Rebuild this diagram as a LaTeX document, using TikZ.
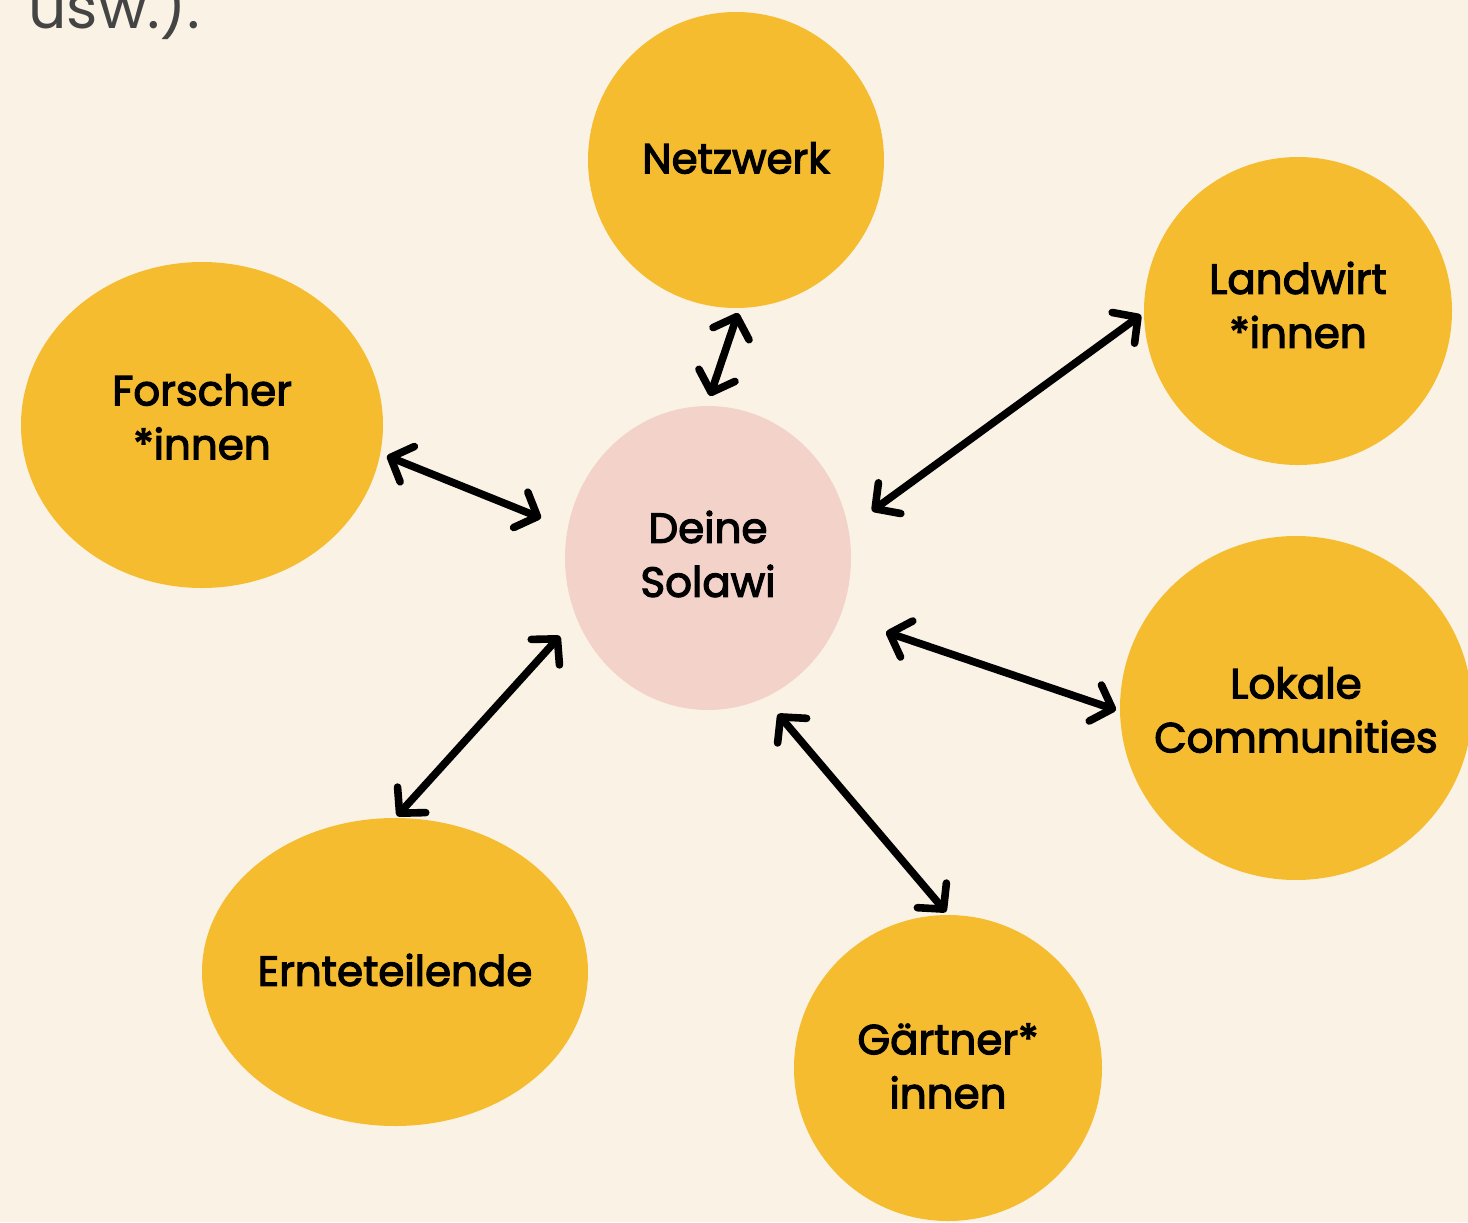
\documentclass[tikz,border=0pt]{standalone}
\usepackage{fontspec}
\setmainfont{Poppins}
\newcommand\medtxt{\special{pdf:literal 2 Tr 0.6 w}}
\newcommand\medend{\special{pdf:literal 0 Tr}}
\usetikzlibrary{arrows.meta,shapes.geometric}
\definecolor{bg}{HTML}{FAF3E5}
\definecolor{gold}{HTML}{F5BC30}
\definecolor{rose}{HTML}{F2D2C9}
\definecolor{greytxt}{HTML}{444444}
\tikzset{
  bubble/.style={ellipse, fill=gold, draw=none, inner sep=0pt},
  lbl/.style={align=center, inner sep=0pt, font=\fontsize{21}{27}\selectfont, text=black},
  arr/.style={line width=3.8pt, line cap=round, {Straight Barb[length=9pt,width=19pt,line cap=round,line join=round]}-{Straight Barb[length=9pt,width=19pt,line cap=round,line join=round]}}
}
\begin{document}
\begin{tikzpicture}[x=0.5pt,y=-0.5pt]
\fill[bg] (0,0) rectangle (1468,1222);
\useasboundingbox (0,0) rectangle (1468,1222);
\node[anchor=base west, text=greytxt, font=\fontsize{30}{36}\selectfont, inner sep=0pt] (usw) at (28,28) {usw.).};
% bubbles
\node[bubble, minimum width=148pt, minimum height=148pt] (netz) at (736,160) {};
\node[bubble, minimum width=154pt, minimum height=154pt] (land) at (1298,311) {};
\node[bubble, minimum width=181pt, minimum height=163pt] (forsch) at (202,425) {};
\node[bubble, fill=rose, minimum width=143pt, minimum height=152pt] (sol) at (708,558) {};
\node[bubble, minimum width=176pt, minimum height=172pt] (lok) at (1296,708) {};
\node[bubble, minimum width=193pt, minimum height=154pt] (ernte) at (395,972) {};
\node[bubble, minimum width=154pt, minimum height=153pt] (gaert) at (948,1068) {};
% labels
\node[lbl] (tnetz) at ([yshift=1pt]netz) {\medtxt Netzwerk\medend};
\node[lbl] (tland) at ([yshift=3pt]land) {\medtxt Landwirt\medend\\\medtxt *innen\medend};
\node[lbl] (tforsch) at ([yshift=4pt]forsch) {\medtxt Forscher\medend\\\medtxt *innen\medend};
\node[lbl] (tsol) at ([yshift=2pt]sol) {\medtxt Deine\medend\\\medtxt Solawi\medend};
\node[lbl] (tlok) at ([yshift=-1pt]lok) {\medtxt Lokale\medend\\\medtxt Communities\medend};
\node[lbl] (ternte) at ([yshift=1pt]ernte) {\medtxt Ernteteilende\medend};
\node[lbl] (tgaert) at ([yshift=1pt]gaert) {\medtxt Gärtner*\medend\\\medtxt innen\medend};
% arrow ends
\coordinate (a1) at (710,396); \coordinate (b1) at (738,313);
\coordinate (a2) at (872,511); \coordinate (b2) at (1141,315);
\coordinate (a3) at (387,456); \coordinate (b3) at (541,518);
\coordinate (a4) at (886,632); \coordinate (b4) at (1116,710);
\coordinate (a5) at (778,714); \coordinate (b5) at (946,912);
\coordinate (a6) at (560,636); \coordinate (b6) at (397,816);
\draw[arr] (a1) -- (b1);
\draw[arr] (a2) -- (b2);
\draw[arr] (a3) -- (b3);
\draw[arr] (a4) -- (b4);
\draw[arr] (a5) -- (b5);
\draw[arr] (a6) -- (b6);
\end{tikzpicture}
\end{document}
